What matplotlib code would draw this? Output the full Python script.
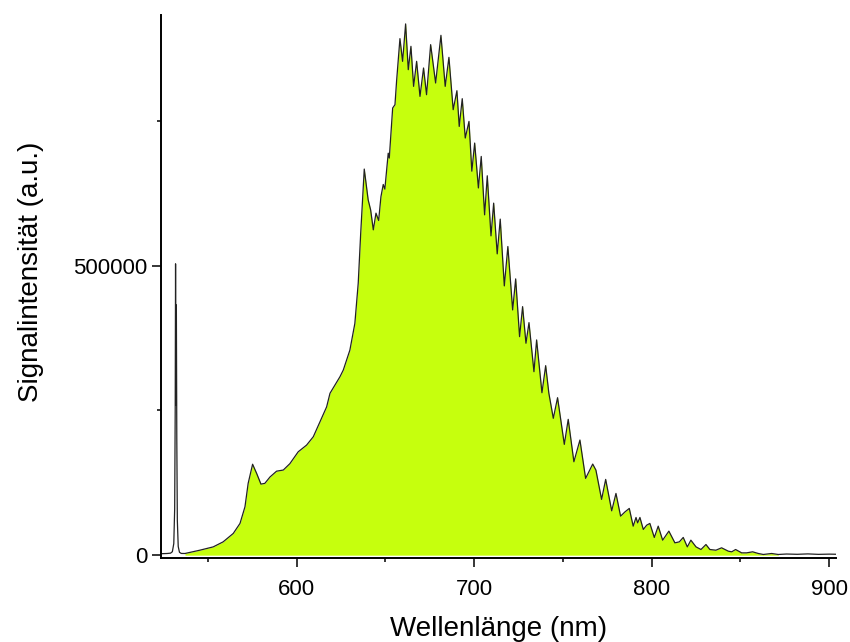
import matplotlib
matplotlib.use("Agg")
import matplotlib.pyplot as plt
import numpy as np

plt.rcParams["font.family"] = ["Liberation Sans", "DejaVu Sans"]

# spectrum (wavelength in nm, signal in a.u.)
wavelength = [
    523.4, 527.0, 529.0, 530.0, 530.8, 531.3, 531.6, 531.8, 532.0, 532.25,
    532.5, 532.8, 533.3, 534.0, 535.0, 537.1,
    545.5, 553.0, 558.6, 564.3, 568.1, 570.9, 572.7, 575.2, 577.5, 579.9,
    582.1, 585.0, 588.7, 592.5, 596.2, 600.9, 605.6, 609.4, 613.1, 616.9,
    618.8, 624.4, 626.3, 630.0, 632.8, 634.7, 636.1, 638.1, 640.3, 641.7,
    643.2, 644.7, 646.2, 647.5, 648.8, 649.7, 651.6, 652.2, 654.1, 655.4,
    656.3, 658.2, 659.7, 661.4, 662.9, 664.4, 665.9, 667.6, 669.5, 671.5,
    673.2, 675.5, 678.3, 681.3, 683.7, 685.8, 688.2, 690.3, 691.6, 693.3,
    695.0, 697.1, 698.7, 700.3, 702.4, 704.0, 705.9, 707.4, 709.5, 711.0,
    713.0, 714.7, 717.0, 719.0, 721.7, 723.4, 725.6, 727.3, 729.2, 730.9,
    733.7, 735.2, 736.5, 738.2, 740.3, 742.1, 744.6, 747.0, 750.8, 753.0,
    756.2, 759.6, 762.8, 766.8, 768.6, 771.8, 774.1, 777.5, 779.9, 782.5,
    785.0, 787.4, 789.6, 791.2, 792.1, 793.4, 795.3, 797.2, 799.0, 801.5,
    803.7, 806.2, 809.7, 813.1, 815.6, 817.8, 820.1, 822.1, 825.0, 827.8,
    830.6, 832.8, 836.2, 839.4, 843.2, 845.1, 847.3, 850.7, 853.5, 856.9,
    860.1, 862.9, 867.6, 871.3,
    876.0, 882.0, 888.0, 894.0, 900.0, 903.6,
]
signal = [
    2500, 2900, 3500, 6000, 20000, 80000, 250000, 503000, 259000, 432000,
    200000, 60000, 15000, 5000, 3000, 2900,
    8600, 14300, 23000, 37500, 54800, 83500, 124000, 157000, 141000, 122700,
    124000, 135000, 145000, 147000, 158000, 178500, 190000, 204500, 230000, 256000,
    279500, 308000, 319700, 354000, 400000, 469500, 556000, 666600, 613500, 596000,
    561700, 590500, 577800, 619000, 640000, 632000, 694000, 685600, 772000, 777700,
    818000, 891800, 852600, 917200, 838200, 878500, 809400, 852600, 792100, 841100,
    795000, 881400, 815200, 897500, 809400, 859500, 769100, 801900, 740200, 788100,
    720200, 748900, 663000, 711500, 634000, 688400, 587600, 655000, 551300, 607800,
    520200, 580200, 464900, 532900, 423400, 477000, 377300, 429100, 365900, 401500,
    316800, 371600, 331300, 280500, 327200, 279500, 236300, 271900, 191300, 234500,
    161300, 198800, 132600, 157300, 146900, 96300, 130800, 76600, 106600, 67400,
    74800, 80700, 50100, 65100, 55800, 65100, 44400, 51800, 54800, 30600,
    50100, 25900, 41500, 21300, 23000, 30600, 14300, 25900, 14300, 9800,
    18400, 9800, 8600, 12700, 6900, 5800, 9800, 4000, 4000, 5800,
    2900, 1200, 2900, 1200,
    2000, 1500, 2200, 1400, 1800, 1600,
]
fill_start = 537.1
fill_end = 871.3

xticks = [600, 700, 800, 900]
yticks = [0, 500000]

wl = np.array(wavelength)
sig = np.array(signal)
mask = (wl >= fill_start) & (wl <= fill_end)

fig = plt.figure(figsize=(8.5, 6.42), dpi=100)
ax = fig.add_axes([0.189, 0.131, 0.794, 0.846])

ax.fill_between(wl[mask], 0, sig[mask], color="#C6FF0D", linewidth=0)
ax.plot(wl, sig, color="#222222", linewidth=0.9)

ax.set_xlim(523.4, 903.6)
ax.set_ylim(-4700, 933000)

ax.spines["top"].set_visible(False)
ax.spines["right"].set_visible(False)
for s in ("left", "bottom"):
    ax.spines[s].set_linewidth(1.4)

ax.set_xticks(xticks)
ax.set_xticks([550, 650, 750, 850], minor=True)
ax.set_yticks(yticks)
ax.set_yticklabels(["0", "500000"])
ax.set_yticks([250000, 750000], minor=True)
ax.tick_params(which="major", direction="out", length=6.5, width=1.1, labelsize=16, pad=3)
ax.tick_params(axis="x", which="major", pad=8.5)
ax.tick_params(which="minor", direction="out", length=3.2, width=1.1)

ax.set_xlabel("Wellenlänge (nm)", fontsize=20, labelpad=12)
ax.set_ylabel("Signalintensität (a.u.)", fontsize=20, labelpad=21)
ax.yaxis.label.set_y(0.526)

fig.savefig("out.png", dpi=100)
